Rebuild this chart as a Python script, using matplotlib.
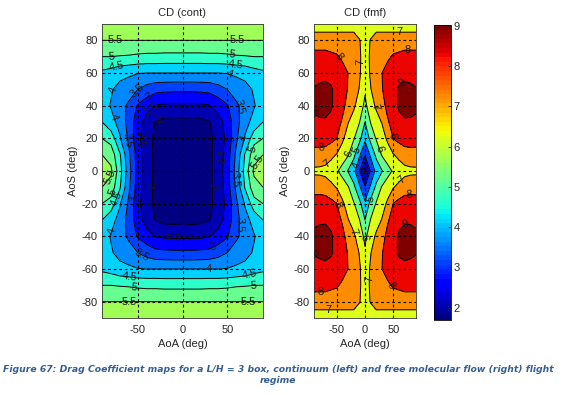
import matplotlib
matplotlib.use("Agg")
import matplotlib.pyplot as plt
import numpy as np
from matplotlib.cm import ScalarMappable
from matplotlib.colors import Normalize

plt.rcParams["font.family"] = ["Liberation Sans", "DejaVu Sans"]
plt.rcParams["axes.unicode_minus"] = False

# quadrant tables, rows are AoS 0..90, columns AoA 0..90 (the maps are symmetric)
aoa_quad = [0, 10, 20, 30, 40, 50, 60, 70, 80, 90]
aos_quad = [0, 10, 20, 30, 40, 50, 60, 70, 80, 90]

cd_cont_quad = [
    [1.75, 1.75, 1.78, 1.90, 2.20, 2.80, 3.70, 4.70, 5.60, 6.00],
    [1.76, 1.76, 1.78, 1.90, 2.20, 2.75, 3.60, 4.55, 5.30, 5.50],
    [1.78, 1.78, 1.80, 1.91, 2.15, 2.65, 3.40, 4.05, 4.80, 5.00],
    [1.87, 1.85, 1.87, 1.98, 2.28, 2.72, 3.30, 3.85, 4.15, 4.50],
    [2.42, 2.40, 2.42, 2.48, 2.70, 2.95, 3.40, 3.70, 3.97, 4.20],
    [3.10, 3.10, 3.12, 3.15, 3.30, 3.50, 3.75, 3.85, 4.05, 4.20],
    [4.00, 4.00, 4.00, 4.00, 4.00, 4.02, 4.08, 4.15, 4.30, 4.40],
    [4.85, 4.85, 4.85, 4.87, 4.87, 4.90, 4.95, 4.97, 5.00, 5.00],
    [5.50, 5.50, 5.50, 5.50, 5.50, 5.50, 5.50, 5.50, 5.50, 5.50],
    [5.80, 5.80, 5.80, 5.80, 5.80, 5.80, 5.80, 5.80, 5.80, 5.80],
]

cd_fmf_quad = [
    [1.80, 3.10, 4.35, 4.95, 5.60, 6.15, 6.50, 6.70, 6.78, 6.80],
    [3.10, 4.20, 5.25, 6.10, 6.60, 6.95, 7.25, 7.55, 7.65, 7.65],
    [4.20, 5.30, 6.10, 6.65, 7.15, 8.03, 8.30, 8.45, 8.45, 8.40],
    [5.00, 6.05, 6.65, 7.05, 7.90, 8.35, 8.70, 8.90, 8.90, 8.85],
    [5.75, 6.60, 7.15, 7.70, 8.25, 8.60, 9.15, 9.30, 9.25, 9.15],
    [6.15, 6.97, 7.40, 7.95, 8.40, 8.75, 9.10, 9.25, 9.15, 9.05],
    [6.60, 7.10, 7.50, 8.00, 8.35, 8.55, 8.70, 8.75, 8.75, 8.70],
    [6.70, 7.10, 7.35, 7.60, 7.85, 8.10, 8.20, 8.30, 8.30, 8.30],
    [6.85, 7.02, 7.30, 7.40, 7.45, 7.50, 7.50, 7.55, 7.55, 7.55],
    [6.90, 6.80, 6.70, 6.60, 6.55, 6.50, 6.50, 6.45, 6.45, 6.45],
]

cont_levels = [2, 2.5, 3, 3.5, 4, 4.5, 5, 5.5]
fmf_levels = [2, 3, 4, 5, 6, 7, 8, 9]
clim = (1.69, 9.02)
x_ticks = [-50, 0, 50]
y_ticks = [-80, -60, -40, -20, 0, 20, 40, 60, 80]
cbar_ticks = [2, 3, 4, 5, 6, 7, 8, 9]

cont_label_pos = [
    (-75, 79), (61, 79), (-60, -79), (74, -78),
    (-79, 70), (55, 71), (-54, -71), (79, -69),
    (-73, 62), (59, 63), (-59, -64), (74, -61),
    (-75, 49), (51, 57), (-76, 33), (-77, -37), (29, -59), (60, -5),
    (-53, 50), (61, 39), (-46, -52), (62, -33), (-60, 19),
    (-39, 47), (-52, -17), (35, -47), (53, 20), (-49, 19),
    (-34, 38), (44, 9), (-10, -41.5),
    (-26, 31), (-32, -9), (30, -10),
    (-82, -3), (85, 5), (-81, -12), (76, 14), (-73, -17), (70, 20),
]
fmf_label_pos = [
    (61, 84.5), (-6.5, 66.7), (-64, 3), (62.5, -4.5), (19, 39),
    (-64, -85), (6, -66), (-18, -37),
    (76, 74), (-46, 70), (-77, 13.5), (49, 21.5),
    (-79, -73), (43, -71), (77, -14), (-49, -21),
    (67, 53), (-88, 38), (71, -31.5), (-87, -50),
    (25, 13.5), (-27, 10), (-7, -41), (14, -18),
    (-14, 12.5), (-12.5, 3.7), (0, 7), (0, 0.6),
]


def mirror(quad):
    z = np.array(quad)
    z = np.hstack([z[:, :0:-1], z])
    return np.vstack([z[:0:-1, :], z])


def draw_map(ax, z, levels, label_pos, title):
    a = np.array(aoa_quad)
    s = np.array(aos_quad)
    a = np.concatenate([-a[:0:-1], a])
    s = np.concatenate([-s[:0:-1], s])

    cmap = plt.get_cmap("jet")
    norm = Normalize(*clim)
    # each band takes the colour of its lower level, like matlab contourf
    colors = [cmap(0.0)] + [cmap(norm(v) * 1.05) for v in levels]
    ax.contourf(a, s, z, levels=levels, colors=colors, extend="both")
    cs = ax.contour(a, s, z, levels=levels, colors="k", linewidths=0.7)
    ax.clabel(cs, levels=levels, inline=False, manual=label_pos, fontsize=8,
              colors="#1a1a1a", fmt=lambda v: f"{v:g}")

    ax.set_xlim(-90, 90)
    ax.set_ylim(-90, 90)
    ax.set_xticks(x_ticks)
    ax.set_yticks(y_ticks)
    ax.set_axisbelow(False)
    ax.grid(True, color="k", lw=0.8, ls=(0, (2.5, 2.5)))
    ax.tick_params(axis="x", pad=5)
    ax.tick_params(direction="in", length=2.5, width=0.6, labelsize=8, colors="#262626")
    ax.tick_params(axis="y", pad=3)
    ax.set_xlabel("AoA (deg)", fontsize=8, color="#262626", labelpad=3)
    ax.set_ylabel("AoS (deg)", fontsize=8, color="#262626", labelpad=3)
    ax.set_title(title, fontsize=8, color="#262626", pad=6)
    for sp in ax.spines.values():
        sp.set_linewidth(0.6)
        sp.set_color("#333333")


W, H = 563, 395
fig = plt.figure(figsize=(W / 100, H / 100), dpi=100, facecolor="white")


def px_axes(x0, x1, y0, y1):
    return fig.add_axes([x0 / W, (H - y1) / H, (x1 - x0) / W, (y1 - y0) / H])


ax_cont = px_axes(102, 263, 24, 318)
ax_fmf = px_axes(314, 416, 24, 318)
ax_cbar = px_axes(434, 451, 25, 320)

draw_map(ax_cont, mirror(cd_cont_quad), cont_levels, cont_label_pos, "CD (cont)")
draw_map(ax_fmf, mirror(cd_fmf_quad), fmf_levels, fmf_label_pos, "CD (fmf)")

sm = ScalarMappable(norm=Normalize(*clim), cmap=plt.get_cmap("jet", 64))
cb = fig.colorbar(sm, cax=ax_cbar)
cb.set_ticks(cbar_ticks)
cb.ax.tick_params(direction="in", length=2.5, width=0.6, labelsize=8, pad=2, colors="#262626")
cb.outline.set_linewidth(0.6)

caption = (
    "Figure 67: Drag Coefficient maps for a L/H = 3 box, continuum (left) and free molecular flow (right) flight\n"
    "regime"
)
fig.text(278 / W, 1 - 375 / H, caption, ha="center", va="center", family="DejaVu Sans",
         fontsize=6.65, fontweight="bold", fontstyle="italic", color="#365f91", linespacing=1.3)

fig.savefig("out.png", dpi=100, facecolor="white")
